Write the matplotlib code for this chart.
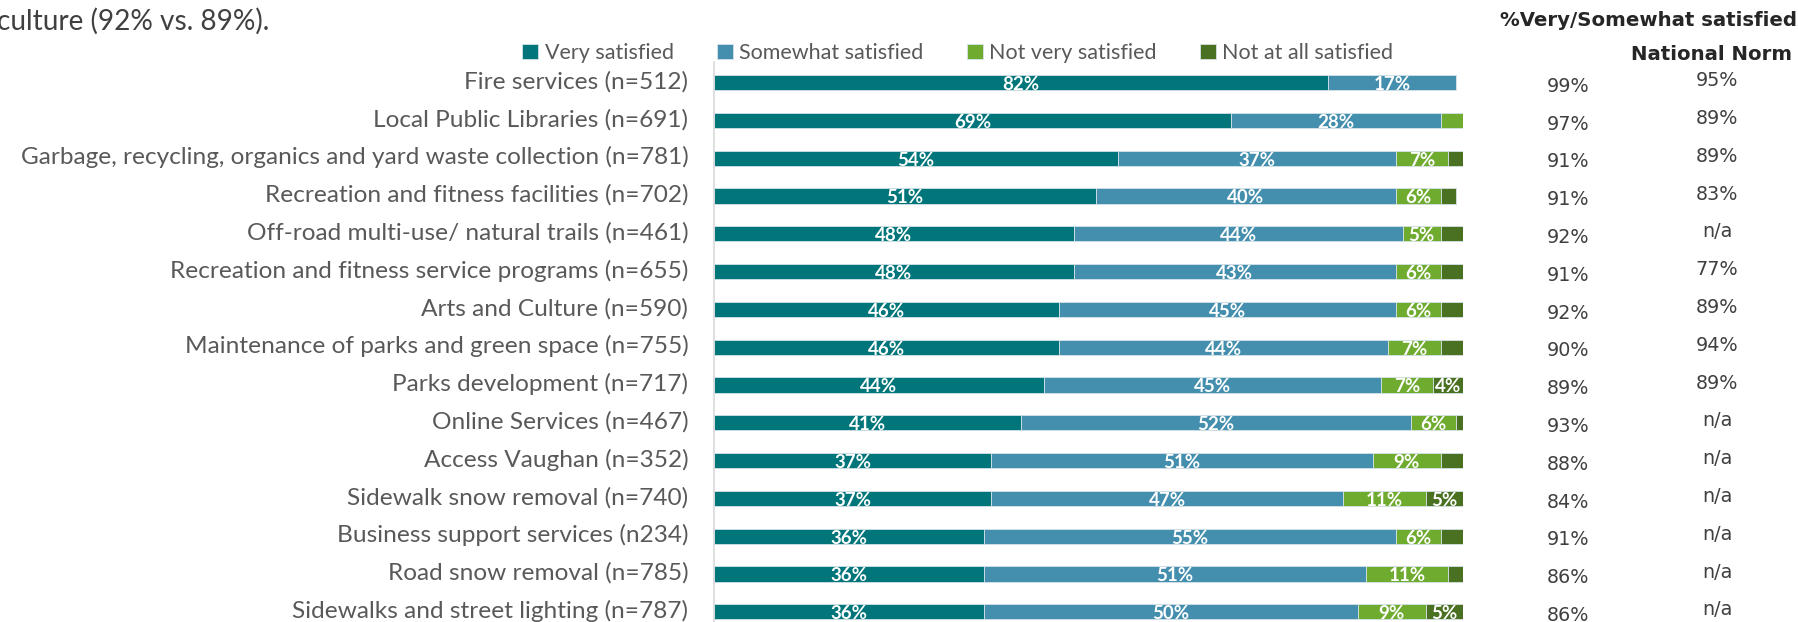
import matplotlib.pyplot as plt
import matplotlib.transforms as mtransforms
import numpy as np

categories = [
    "Fire services (n=512)",
    "Local Public Libraries (n=691)",
    "Garbage, recycling, organics and yard waste collection (n=781)",
    "Recreation and fitness facilities (n=702)",
    "Off-road multi-use/ natural trails (n=461)",
    "Recreation and fitness service programs (n=655)",
    "Arts and Culture (n=590)",
    "Maintenance of parks and green space (n=755)",
    "Parks development (n=717)",
    "Online Services (n=467)",
    "Access Vaughan (n=352)",
    "Sidewalk snow removal (n=740)",
    "Business support services (n234)",
    "Road snow removal (n=785)",
    "Sidewalks and street lighting (n=787)",
]
very = [82, 69, 54, 51, 48, 48, 46, 46, 44, 41, 37, 37, 36, 36, 36]
somewhat = [17, 28, 37, 40, 44, 43, 45, 44, 45, 52, 51, 47, 55, 51, 50]
not_very = [0, 3, 7, 6, 5, 6, 6, 7, 7, 6, 9, 11, 6, 11, 9]
not_at_all = [0, 0, 2, 2, 3, 3, 3, 3, 4, 1, 3, 5, 3, 2, 5]
top2 = ["99%", "97%", "91%", "91%", "92%", "91%", "92%", "90%", "89%", "93%",
        "88%", "84%", "91%", "86%", "86%"]
norm = ["95%", "89%", "89%", "83%", "n/a", "77%", "89%", "94%", "89%", "n/a",
        "n/a", "n/a", "n/a", "n/a", "n/a"]

series = [("Very satisfied", very, "#00767b"),
          ("Somewhat satisfied", somewhat, "#448fae"),
          ("Not very satisfied", not_very, "#6fab2f"),
          ("Not at all satisfied", not_at_all, "#4a7021")]

W, H = 1799, 622
fig = plt.figure(figsize=(W / 100, H / 100), dpi=100)
ax = fig.add_axes([714 / W, 0, (1463 - 714) / W, 1 - 62 / H])

y = np.arange(len(categories))
left = np.zeros(len(categories))
for name, vals, col in series:
    vals = np.array(vals, dtype=float)
    ax.barh(y, vals, left=left, height=0.4, color=col, label=name,
            edgecolor="#d5e2e8", linewidth=0.6)
    for yi, l, v in zip(y, left, vals):
        if v >= 4:
            ax.text(l + v / 2, yi + 0.05, f"{int(v)}%", ha="center", va="center",
                    color="white", fontsize=13.5, fontweight="bold", family="Lato")
    left += vals

ax.set_xlim(0, 100)
ax.set_ylim(14.27, -0.545)
ax.set_yticks(y)
ax.set_yticklabels(categories, fontsize=17.6, color="#595959", family="Lato")
ax.tick_params(axis="y", length=0, pad=18.5)
shift = mtransforms.ScaledTranslation(0, 3 / 100, fig.dpi_scale_trans)
for lab in ax.get_yticklabels():
    lab.set_transform(lab.get_transform() + shift)
ax.set_xticks([])
for s in ["top", "right", "bottom"]:
    ax.spines[s].set_visible(False)
ax.spines["left"].set_color("#d9d9d9")
ax.spines["left"].set_linewidth(1.2)

ax.legend(ncol=4, loc="center left", bbox_to_anchor=(522 / W, 1 - 53 / H),
          bbox_transform=fig.transFigure, frameon=False,
          handlelength=0.75, handleheight=0.75, handletextpad=0.3,
          columnspacing=2.0, borderaxespad=0, borderpad=0,
          prop={"family": "Lato", "size": 15.5}, labelcolor="#595959")

# right-hand columns
tr = mtransforms.blended_transform_factory(fig.transFigure, ax.transData)
for yi, a, b in zip(y, top2, norm):
    ax.text(1568 / W, yi + 0.1, a, transform=tr, ha="center", va="center",
            fontsize=13.8, color="#404040", family="DejaVu Sans")
    ax.text(1717 / W, yi - 0.05, b, transform=tr, ha="center", va="center",
            fontsize=13.8, color="#404040", family="DejaVu Sans")

fig.text(1797 / W, 1 - 21 / H, "%Very/Somewhat satisfied", ha="right", va="center",
         fontsize=14.2, fontweight="bold", color="#262626", family="DejaVu Sans")
fig.text(1792 / W, 1 - 54 / H, "National Norm", ha="right", va="center",
         fontsize=14.2, fontweight="bold", color="#262626", family="DejaVu Sans")

fig.text(-3 / W, 1 - 21 / H, "culture (92% vs. 89%).", ha="left", va="center",
         fontsize=20.2, color="#404040", family="Lato")

fig.savefig("out.png", dpi=100)
